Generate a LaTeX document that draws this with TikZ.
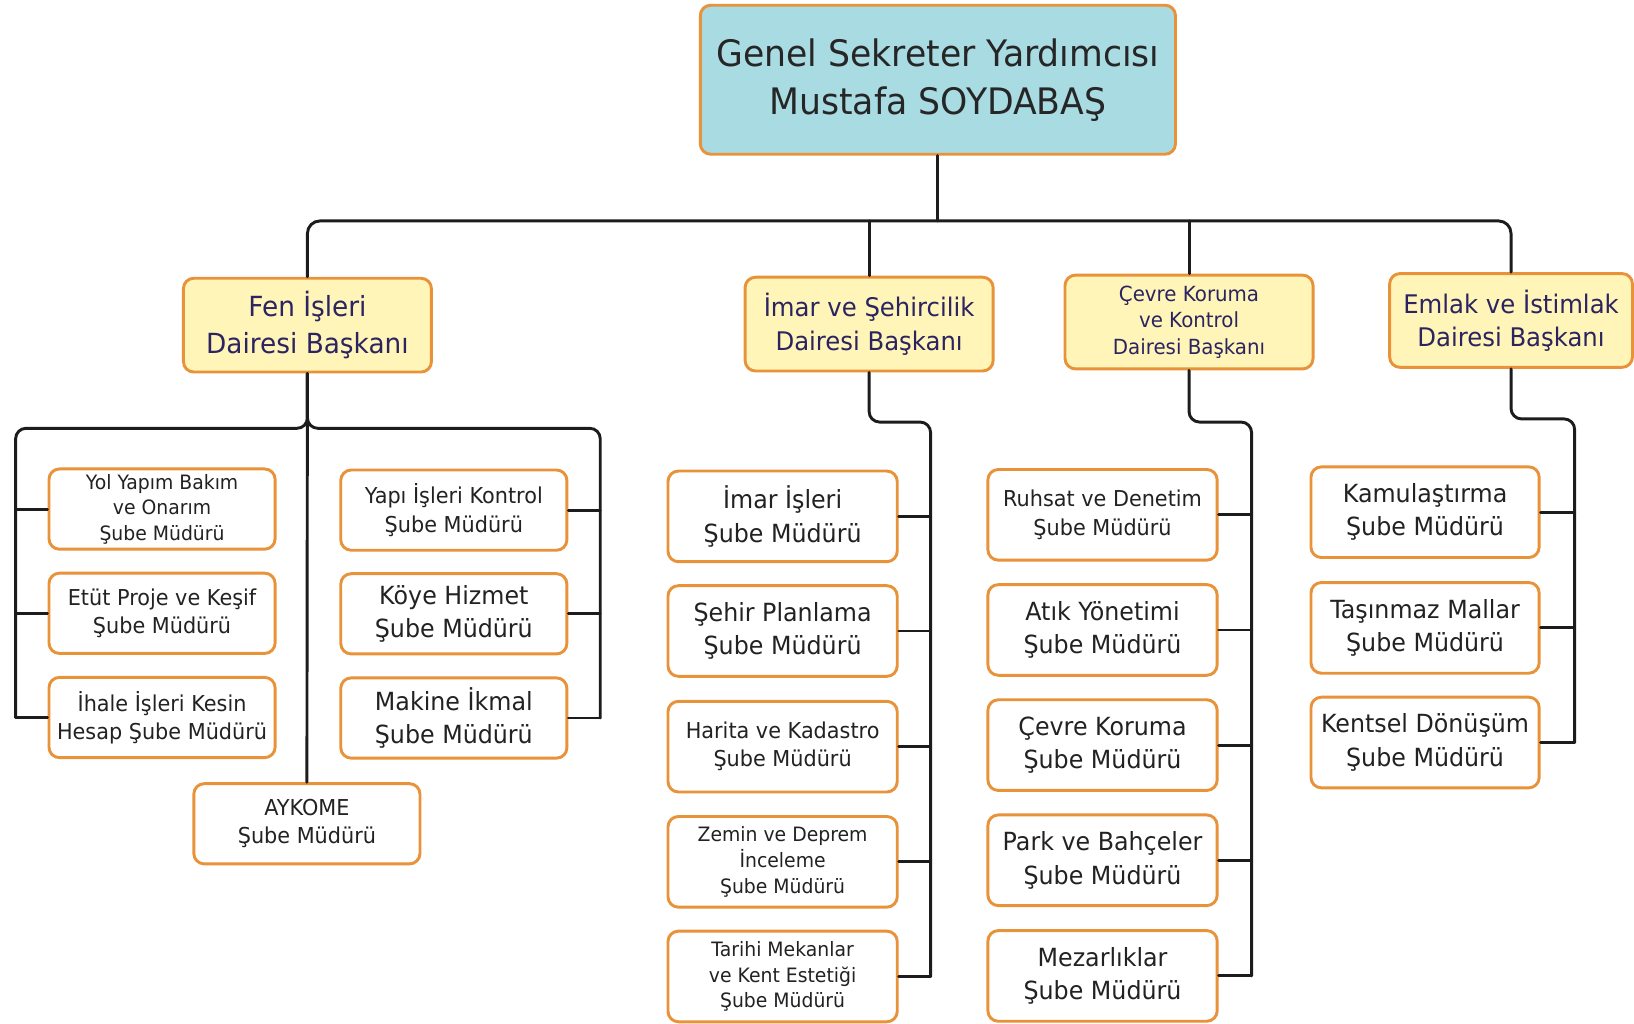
\documentclass[tikz,border=0pt]{standalone}
\usepackage{fontspec}
\setmainfont{DejaVu Sans}[FakeStretch=0.95]

\definecolor{boxorange}{HTML}{E8923A}
\definecolor{topblue}{HTML}{A9DBE3}
\definecolor{headyellow}{HTML}{FFF5B8}
\definecolor{headtext}{HTML}{2B2461}
\definecolor{subtext}{HTML}{222222}
\definecolor{connline}{HTML}{1C1C1C}

\tikzset{
	orgbox/.style={draw=boxorange, line width=1.4pt, rounded corners=5pt, align=center, inner sep=2pt},
	topbox/.style={orgbox, fill=topblue, text=black!85, minimum width=228pt, minimum height=71.5pt,
		font=\fontsize{17.5}{23}\selectfont},
	headbox/.style={orgbox, fill=headyellow, text=headtext, minimum width=119pt, minimum height=45pt},
	fenbox/.style={orgbox, fill=white, text=subtext, minimum width=108.5pt, minimum height=38.5pt},
	listbox/.style={orgbox, fill=white, text=subtext, minimum width=110pt, minimum height=43.5pt},
	conn/.style={draw=connline, line width=1.4pt},
	fhead/.style={font=\fontsize{12.3}{16}\selectfont},
	fbig/.style={font=\fontsize{12}{16}\selectfont},
	fmid/.style={font=\fontsize{10.5}{13.5}\selectfont},
	fsmall/.style={font=\fontsize{9.5}{12.3}\selectfont},
}

\begin{document}
\begin{tikzpicture}[x=0.5pt, y=-0.5pt, line cap=round, line join=round]
\useasboundingbox (0,0) rectangle (1568,982);

%========================
% Top: Genel Sekreter Yardimcisi
%========================
\node[topbox] (top) at (900,76.5) {Genel Sekreter Yardımcısı\\Mustafa SOYDABAŞ};

%========================
% Daire baskanlari
%========================
\node[headbox, font=\fontsize{13.3}{18}\selectfont] (fen) at (295,312) {Fen İşleri\\Dairesi Başkanı};
\node[headbox, fhead] (imar) at (834,311) {İmar ve Şehircilik\\Dairesi Başkanı};
\node[headbox, font=\fontsize{10}{12.7}\selectfont] (cevre) at (1141,309) {Çevre Koruma\\ve Kontrol\\Dairesi Başkanı};
\node[headbox, fhead, minimum width=116.5pt] (emlak) at (1450,307.5) {Emlak ve İstimlak\\Dairesi Başkanı};

% bus
\coordinate (bus) at (900,212);
\draw[conn] (top.south) -- (bus);
\draw[conn, rounded corners=6pt] (fen.north) |- (bus) -| (emlak.north);
\draw[conn] (imar.north) -- (imar.north |- bus);
\draw[conn] (cevre.north) -- (cevre.north |- bus);

%========================
% Fen Isleri sube mudurlukleri
%========================
\node[fenbox, fsmall] (yol) at (155.5,488.5) {Yol Yapım Bakım\\ve Onarım\\Şube Müdürü};
\node[fenbox, fmid] (etut) at (155.5,588.5) {Etüt Proje ve Keşif\\Şube Müdürü};
\node[fenbox, fmid] (ihale) at (155.5,688.5) {İhale İşleri Kesin\\Hesap Şube Müdürü};
\node[fenbox, fmid] (yapi) at (435.5,489.5) {Yapı İşleri Kontrol\\Şube Müdürü};
\node[fenbox, fbig] (koye) at (435.5,589) {Köye Hizmet\\Şube Müdürü};
\node[fenbox, fbig] (makine) at (435.5,689) {Makine İkmal\\Şube Müdürü};
\node[fenbox, fmid] (aykome) at (294.5,790.5) {AYKOME\\Şube Müdürü};

\coordinate (fenL) at (15,411);
\coordinate (fenR) at (576,411);
\draw[conn] (fen.south) -- (aykome.north);
\draw[conn, rounded corners=5pt] (fenL |- ihale.west) -- (fenL) -- (fen.south |- fenL) -- (fen.south);
\draw[conn, rounded corners=5pt] (fenR |- makine.east) -- (fenR) -- (fen.south |- fenR) -- (fen.south);
\foreach \n in {yol, etut, ihale}
	\draw[conn] (\n.west) -- (fenL |- \n.west);
\foreach \n in {yapi, koye, makine}
	\draw[conn] (\n.east) -- (fenR |- \n.east);

%========================
% Imar ve Sehircilik sube mudurlukleri
%========================
\node[listbox, fbig] (imarisl) at (751,495.5) {İmar İşleri\\Şube Müdürü};
\node[listbox, fbig] (sehir) at (751,605.5) {Şehir Planlama\\Şube Müdürü};
\node[listbox, fmid] (harita) at (751,716.5) {Harita ve Kadastro\\Şube Müdürü};
\node[listbox, fsmall] (zemin) at (751,827) {Zemin ve Deprem\\İnceleme\\Şube Müdürü};
\node[listbox, fsmall] (tarihi) at (751,937) {Tarihi Mekanlar\\ve Kent Estetiği\\Şube Müdürü};

\coordinate (imarK) at (893,405);
\draw[conn, rounded corners=5pt] (imar.south) |- (imarK) -- (imarK |- tarihi.east);
\foreach \n in {imarisl, sehir, harita, zemin, tarihi}
	\draw[conn] (\n.east) -- (imarK |- \n.east);

%========================
% Cevre Koruma sube mudurlukleri
%========================
\node[listbox, fmid] (ruhsat) at (1058,494) {Ruhsat ve Denetim\\Şube Müdürü};
\node[listbox, fbig] (atik) at (1058,604.5) {Atık Yönetimi\\Şube Müdürü};
\node[listbox, fbig] (ckoruma) at (1058,715) {Çevre Koruma\\Şube Müdürü};
\node[listbox, fbig] (park) at (1058,825.5) {Park ve Bahçeler\\Şube Müdürü};
\node[listbox, fbig] (mezar) at (1058,936.5) {Mezarlıklar\\Şube Müdürü};

\coordinate (cevreK) at (1201,405);
\draw[conn, rounded corners=5pt] (cevre.south) |- (cevreK) -- (cevreK |- mezar.east);
\foreach \n in {ruhsat, atik, ckoruma, park, mezar}
	\draw[conn] (\n.east) -- (cevreK |- \n.east);

%========================
% Emlak ve Istimlak sube mudurlukleri
%========================
\node[listbox, fbig, minimum width=109.5pt] (kamu) at (1367.5,491.5) {Kamulaştırma\\Şube Müdürü};
\node[listbox, fbig, minimum width=109.5pt] (tasinmaz) at (1367.5,602.5) {Taşınmaz Mallar\\Şube Müdürü};
\node[listbox, fbig, minimum width=109.5pt] (kentsel) at (1367.5,712.5) {Kentsel Dönüşüm\\Şube Müdürü};

\coordinate (emlakK) at (1511,402);
\draw[conn, rounded corners=5pt] (emlak.south) |- (emlakK) -- (emlakK |- kentsel.east);
\foreach \n in {kamu, tasinmaz, kentsel}
	\draw[conn] (\n.east) -- (emlakK |- \n.east);

\end{tikzpicture}
\end{document}
